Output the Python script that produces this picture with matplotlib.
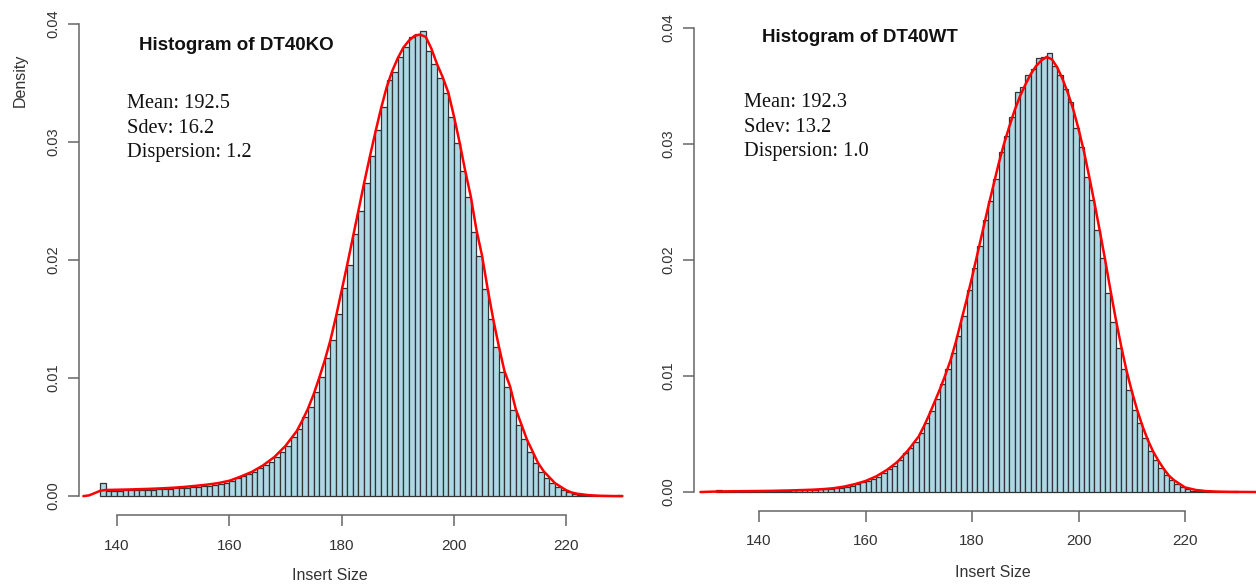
import numpy as np
import matplotlib
matplotlib.use("Agg")
import matplotlib.pyplot as plt

# ---------------- data ----------------
ko_bin_start = list(range(137, 230))
ko_density = [
    0.00108, 0.00045, 0.00046, 0.00047, 0.00048, 0.00050, 0.00051, 0.00052, 0.00054, 0.00056,
    0.00058, 0.00060, 0.00062, 0.00065, 0.00068, 0.00071, 0.00074, 0.00078, 0.00082, 0.00087,
    0.00093, 0.00100, 0.00110, 0.00130, 0.00150, 0.00172, 0.00190, 0.00208, 0.00238, 0.00262,
    0.00290, 0.00333, 0.00376, 0.00427, 0.00503, 0.00565, 0.00667, 0.00757, 0.00884, 0.01011,
    0.01167, 0.01322, 0.01540, 0.01763, 0.01957, 0.02218, 0.02418, 0.02655, 0.02884, 0.03102,
    0.03294, 0.03525, 0.03596, 0.03723, 0.03808, 0.03887, 0.03912, 0.03943, 0.03774, 0.03658,
    0.03545, 0.03418, 0.03214, 0.02994, 0.02754, 0.02536, 0.02235, 0.02034, 0.01751, 0.01497,
    0.01266, 0.01054, 0.00927, 0.00729, 0.00602, 0.00480, 0.00370, 0.00277, 0.00206, 0.00155,
    0.00113, 0.00079, 0.00051, 0.00031, 0.00020, 0.00012, 0.00008, 0.00005, 0.00003, 0.00002,
    0.00001, 0.00001, 0.00010,
]
ko_curve_x = [134, 135, 136, 137, 138, 140, 142, 144, 146, 148, 150, 152, 154, 156, 158, 160,
              162, 164, 166, 168, 170, 172, 173, 174, 175, 176, 177, 178, 179, 180, 181, 182,
              183, 184, 185, 186, 187, 188, 189, 190, 191, 192, 193, 194, 195, 196, 197, 198,
              199, 200, 201, 202, 203, 204, 205, 206, 207, 208, 209, 210, 211, 212, 213, 214,
              215, 216, 217, 218, 219, 220, 221, 222, 224, 226, 228, 230]
ko_curve_y = [0.0, 0.00006, 0.00025, 0.00045, 0.00052, 0.00054, 0.00056, 0.00059, 0.00062,
              0.00066, 0.00071, 0.00078, 0.00087, 0.00097, 0.00110, 0.00130, 0.00165, 0.00205,
              0.00260, 0.00330, 0.00425, 0.0055, 0.0064, 0.0074, 0.0086, 0.0100, 0.0115, 0.0132,
              0.0152, 0.0174, 0.0196, 0.0219, 0.0242, 0.0265, 0.0287, 0.0308, 0.0328, 0.0346,
              0.0360, 0.0371, 0.0380, 0.0386, 0.0390, 0.0391, 0.0389, 0.0379, 0.0366, 0.0355,
              0.0342, 0.0322, 0.0300, 0.0276, 0.0254, 0.0226, 0.0204, 0.0176, 0.0150, 0.0127,
              0.0106, 0.0093, 0.0074, 0.0061, 0.0048, 0.0038, 0.0028, 0.0021, 0.0016, 0.0011,
              0.0008, 0.0005, 0.0003, 0.0002, 0.00008, 0.00003, 0.00001, 0.0]

wt_bin_start = list(range(132, 230))
wt_density = [
    0.00017, 0.00006, 0.00006, 0.00007, 0.00007, 0.00008, 0.00008, 0.00009, 0.00009, 0.00010,
    0.00010, 0.00011, 0.00012, 0.00013, 0.00014, 0.00015, 0.00016, 0.00018, 0.00020, 0.00022,
    0.00025, 0.00028, 0.00032, 0.00038, 0.00046, 0.00056, 0.00070, 0.00083, 0.00098, 0.00112,
    0.00132, 0.00167, 0.00195, 0.00224, 0.00276, 0.00333, 0.00379, 0.00434, 0.00506, 0.00598,
    0.00701, 0.00799, 0.00928, 0.01063, 0.01195, 0.01345, 0.01517, 0.01744, 0.01928, 0.02121,
    0.02345, 0.02511, 0.02698, 0.02934, 0.03069, 0.03235, 0.03451, 0.03489, 0.03595, 0.03647,
    0.03744, 0.03747, 0.03787, 0.03672, 0.03595, 0.03472, 0.03365, 0.03135, 0.02977, 0.02718,
    0.02517, 0.02259, 0.02015, 0.01715, 0.01468, 0.01239, 0.01058, 0.00879, 0.00707, 0.00598,
    0.00463, 0.00356, 0.00276, 0.00204, 0.00147, 0.00103, 0.00069, 0.00040, 0.00023, 0.00012,
    0.00008, 0.00005, 0.00003, 0.00002, 0.00001, 0.00001, 0.00001, 0.00008,
]
wt_curve_x = [129, 131, 134, 138, 142, 146, 150, 152, 154, 156, 158, 160, 162, 164, 166, 168,
              170, 171, 172, 173, 174, 175, 176, 177, 178, 179, 180, 181, 182, 183, 184, 185,
              186, 187, 188, 189, 190, 191, 192, 193, 194, 195, 196, 197, 198, 199, 200, 201,
              202, 203, 204, 205, 206, 207, 208, 209, 210, 211, 212, 213, 214, 215, 216, 217,
              218, 219, 220, 222, 224, 226, 228, 230, 234]
wt_curve_y = [0.0, 0.00003, 0.00006, 0.00008, 0.00010, 0.00014, 0.00020, 0.00025, 0.00033,
              0.00047, 0.00068, 0.00095, 0.00135, 0.00190, 0.00260, 0.00360, 0.0048, 0.0057,
              0.0067, 0.0078, 0.0089, 0.0101, 0.0114, 0.0130, 0.0148, 0.0166, 0.0185, 0.0205,
              0.0225, 0.0245, 0.0264, 0.0283, 0.0300, 0.0315, 0.0329, 0.0341, 0.0351, 0.0360,
              0.0367, 0.0372, 0.0375, 0.0373, 0.0366, 0.0356, 0.0344, 0.0330, 0.0313, 0.0294,
              0.0272, 0.0249, 0.0225, 0.0200, 0.0174, 0.0149, 0.0126, 0.0105, 0.0087, 0.0071,
              0.0057, 0.0045, 0.0035, 0.0027, 0.0020, 0.0014, 0.0010, 0.0007, 0.0004, 0.00018,
              0.00008, 0.00004, 0.00002, 0.00001, 0.0]

x_ticks = [140, 160, 180, 200, 220]
y_ticks = [0.00, 0.01, 0.02, 0.03, 0.04]
y_tick_labels = ["0.00", "0.01", "0.02", "0.03", "0.04"]

titles = ["Histogram of DT40KO", "Histogram of DT40WT"]
stats = [["Mean: 192.5", "Sdev: 16.2", "Dispersion: 1.2"],
         ["Mean: 192.3", "Sdev: 13.2", "Dispersion: 1.0"]]

# ---------------- figure ----------------
W, H = 1256, 587
fig = plt.figure(figsize=(W / 100, H / 100), dpi=100)

SANS = ["Liberation Sans", "DejaVu Sans"]
SERIF = ["Liberation Serif", "DejaVu Serif"]
AX_COLOR = "#666666"
TXT_COLOR = "#333333"


def frac_box(l, r, t, b):
    return [l / W, 1 - b / H, (r - l) / W, (b - t) / H]


def fx(px):
    return px / W


def fy(py):
    return 1 - py / H


panels = [
    dict(box=frac_box(79, 643, 5.1, 515), xlim=(133.23, 233.68),
         bins=ko_bin_start, dens=ko_density, cx=ko_curve_x, cy=ko_curve_y,
         title_xy=(139.3, 50), stats_xy=(127, 108.3), xlabel_xy=(330, 580)),
    dict(box=frac_box(694, 1256, 9.4, 510.6), xlim=(127.79, 233.33),
         bins=wt_bin_start, dens=wt_density, cx=wt_curve_x, cy=wt_curve_y,
         title_xy=(761.7, 42), stats_xy=(744.3, 107.3), xlabel_xy=(993, 577)),
]

for i, p in enumerate(panels):
    ax = fig.add_axes(p["box"])
    ax.bar(p["bins"], p["dens"], width=1.0, align="edge", color="#ADD8E6",
           edgecolor="#333333", linewidth=0.9, zorder=2)
    ax.plot(p["cx"], p["cy"], color="#FF0000", lw=1.8, zorder=3,
            solid_capstyle="round")
    ax.set_xlim(*p["xlim"])
    ax.set_ylim(-0.0016, 0.0416)
    for s in ["top", "right"]:
        ax.spines[s].set_visible(False)
    for s in ["bottom", "left"]:
        ax.spines[s].set_color(AX_COLOR)
        ax.spines[s].set_linewidth(1.1)
    ax.spines["bottom"].set_bounds(140, 220)
    ax.spines["left"].set_bounds(0.0, 0.04)
    ax.set_xticks(x_ticks)
    ax.set_xticklabels([str(t) for t in x_ticks], fontfamily=SANS, fontsize=11,
                       color=TXT_COLOR)
    ax.set_yticks(y_ticks)
    ax.set_yticklabels(y_tick_labels, fontfamily=SANS, fontsize=10.5,
                       color=TXT_COLOR, rotation=90, va="center")
    ax.tick_params(axis="x", length=7.7, width=1.1, color=AX_COLOR, pad=9.5)
    ax.tick_params(axis="y", length=7.7, width=1.1, color=AX_COLOR, pad=6)
    ax.patch.set_alpha(0)

    tx, ty = p["title_xy"]
    fig.text(fx(tx), fy(ty), titles[i], fontfamily=SANS, fontsize=13.5,
             fontweight="bold", color="#111111", ha="left", va="baseline")
    sx, sy = p["stats_xy"]
    for k, line in enumerate(stats[i]):
        fig.text(fx(sx), fy(sy + 24.6 * k), line, fontfamily=SERIF, fontsize=14.7,
                 color="#111111", ha="left", va="baseline")
    lx, ly = p["xlabel_xy"]
    fig.text(fx(lx), fy(ly), "Insert Size", fontfamily=SANS, fontsize=11.5,
             color=TXT_COLOR, ha="center", va="baseline")

fig.text(fx(24.3), fy(80), "Density", fontfamily=SANS, fontsize=11.5,
         color=TXT_COLOR, rotation=90, rotation_mode="anchor",
         ha="center", va="baseline")

fig.savefig("out.png", dpi=100)
